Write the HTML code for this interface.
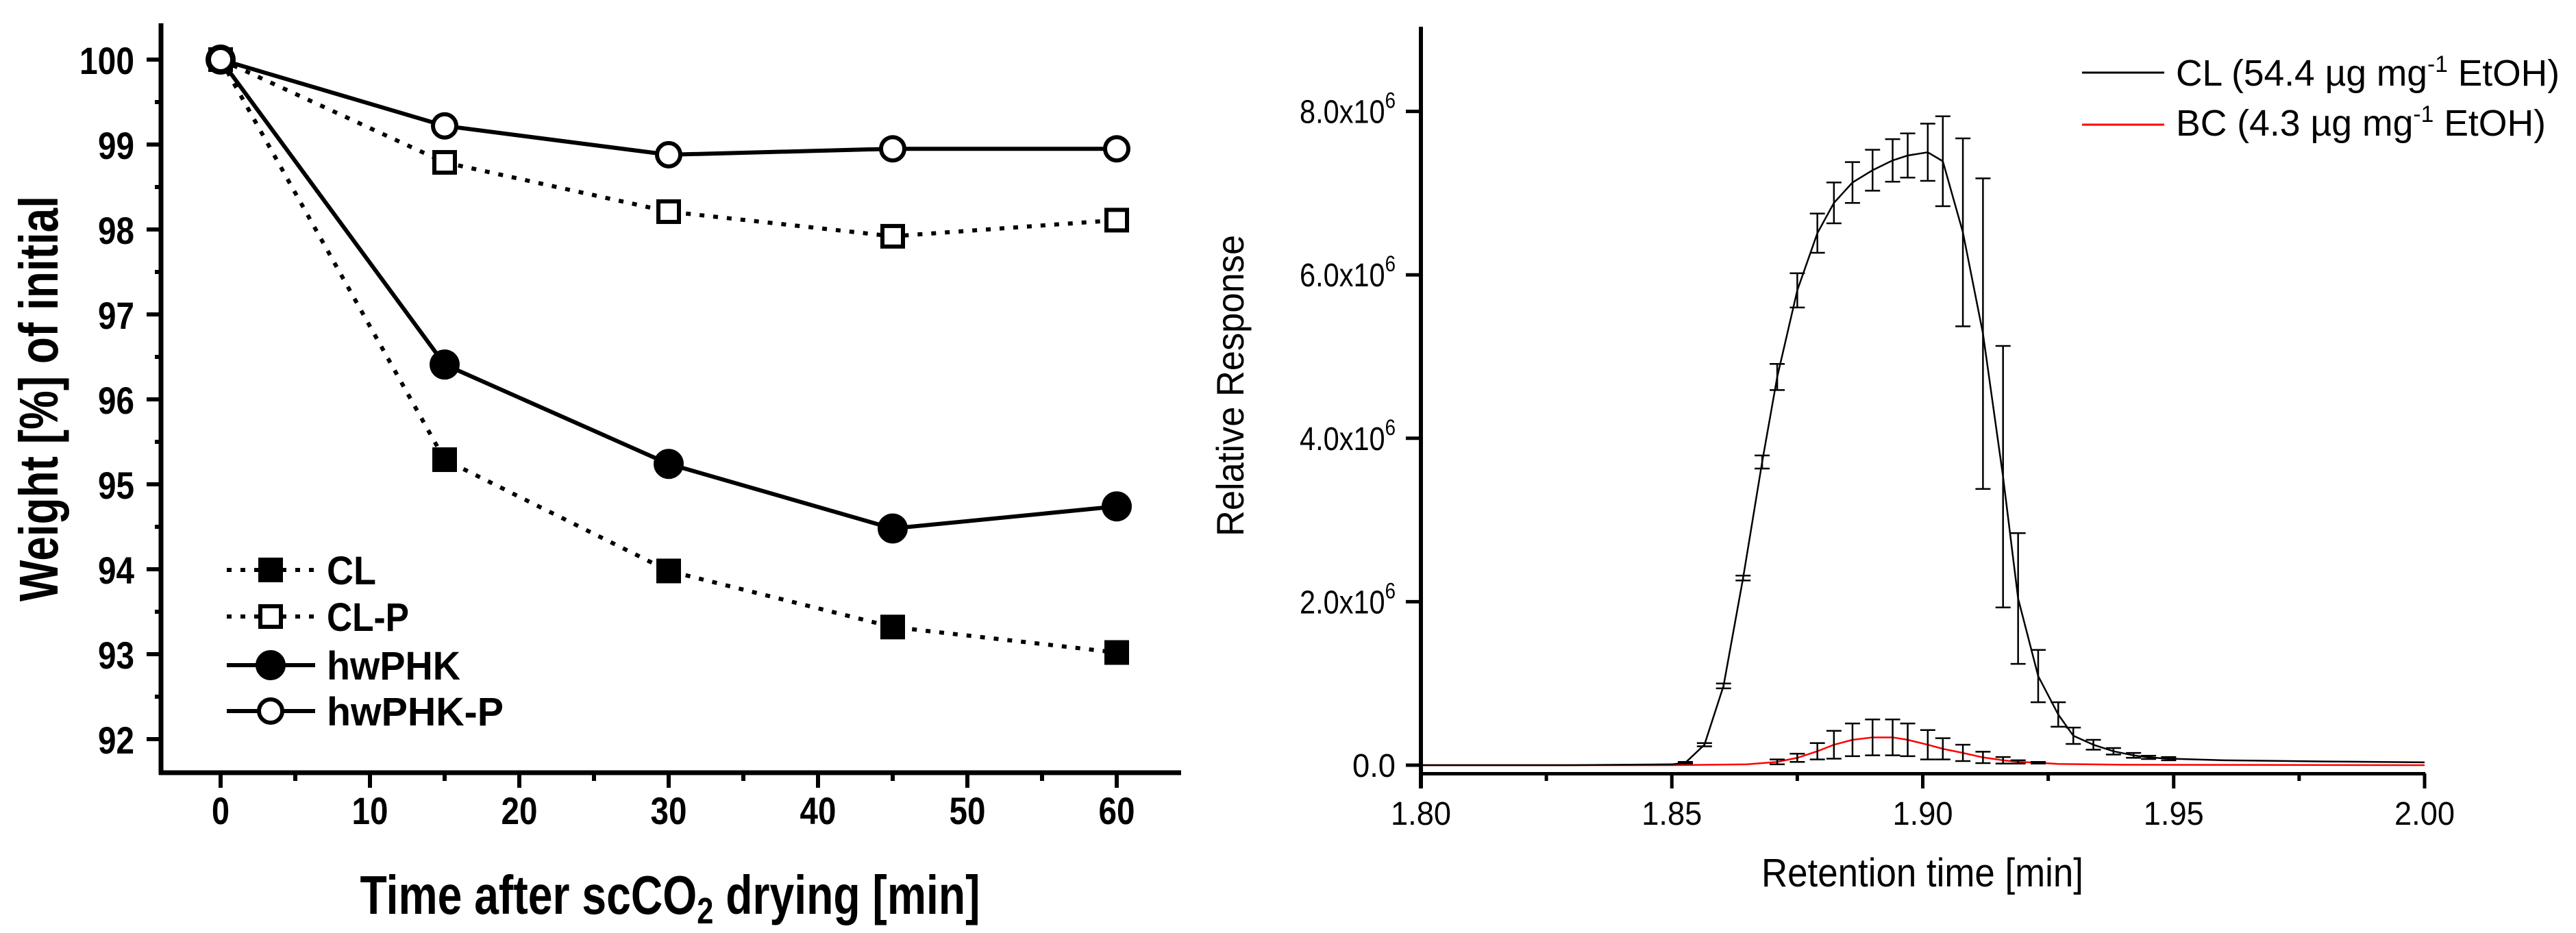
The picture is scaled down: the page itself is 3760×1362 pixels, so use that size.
<!DOCTYPE html>
<html><head><meta charset="utf-8"><style>
html,body{margin:0;padding:0;background:#fff;}
svg{display:block;}
text{font-family:"Liberation Sans",Arial,sans-serif;fill:#000;}
.b{font-weight:bold;}
</style></head><body>
<svg id="chart" width="3760" height="1362" viewBox="0 0 3760 1362" xmlns="http://www.w3.org/2000/svg">
<rect width="3760" height="1362" fill="#fff"/>
<g id="left"></g>
<g id="right"></g>
</svg>
<script>
// ---- Left chart data ----
const times = [0, 15, 30, 45, 60];
const clVals = [100, 95.29, 93.98, 93.32, 93.02];
const clpVals = [100, 98.79, 98.21, 97.92, 98.11];
const hwVals = [100, 96.41, 95.24, 94.48, 94.74];
const hwpVals = [100, 99.22, 98.88, 98.95, 98.95];
const leftXTicks = [0, 10, 20, 30, 40, 50, 60];
const leftYTicks = [92, 93, 94, 95, 96, 97, 98, 99, 100];

// ---- Right chart data ----
const rtX = [1.80, 1.83, 1.85, 1.8527, 1.8565, 1.8603, 1.8642, 1.868, 1.871, 1.875, 1.879, 1.8823, 1.886, 1.890, 1.894, 1.897, 1.901, 1.904, 1.908, 1.912, 1.916, 1.919, 1.923, 1.927, 1.930, 1.934, 1.938, 1.942, 1.945, 1.949, 1.96, 1.98, 2.00];
const clResp = [0, 0, 0.01, 0.03, 0.25, 0.97, 2.29, 3.71, 4.75, 5.81, 6.51, 6.88, 7.13, 7.28, 7.40, 7.46, 7.50, 7.39, 6.52, 5.28, 3.53, 2.04, 1.09, 0.62, 0.36, 0.25, 0.17, 0.12, 0.095, 0.08, 0.06, 0.045, 0.035];
const clErr = [0, 0, 0, 0.01, 0.02, 0.03, 0.03, 0.08, 0.16, 0.21, 0.24, 0.25, 0.25, 0.25, 0.26, 0.27, 0.35, 0.55, 1.15, 1.9, 1.6, 0.8, 0.32, 0.15, 0.1, 0.06, 0.04, 0.03, 0.02, 0.02, 0, 0, 0];
const bcX = [1.80, 1.85, 1.865, 1.871, 1.875, 1.879, 1.8823, 1.886, 1.890, 1.894, 1.897, 1.901, 1.904, 1.908, 1.912, 1.916, 1.919, 1.923, 1.927, 1.94, 2.00];
const bcResp = [0, 0, 0.01, 0.04, 0.09, 0.17, 0.25, 0.31, 0.34, 0.34, 0.31, 0.25, 0.20, 0.15, 0.095, 0.06, 0.04, 0.03, 0.015, 0.005, 0];
const bcErr = [0, 0, 0, 0.03, 0.05, 0.1, 0.17, 0.2, 0.22, 0.22, 0.2, 0.18, 0.13, 0.1, 0.07, 0.04, 0.02, 0.01, 0, 0, 0];
const rightXTicks = [1.80, 1.85, 1.90, 1.95, 2.00];
const rightYTicks = [0, 2, 4, 6, 8];

const NS = "http://www.w3.org/2000/svg";
function mk(parent, tag, attrs, txt) {
  const e = document.createElementNS(NS, tag);
  for (const k in attrs) e.setAttribute(k, attrs[k]);
  if (txt !== undefined) e.textContent = txt;
  parent.appendChild(e);
  return e;
}

// ================= LEFT =================
const L = document.getElementById('left');
const xL = t => 322 + t * 21.8;
const yL = w => 87 + (100 - w) * 124;
let e;
e = mk(L, 'line', {x1: 235, y1: 34, x2: 235, y2: 1131, stroke: '#000', 'stroke-width': 7});


e = mk(L, 'line', {x1: 232, y1: 1128, x2: 1724, y2: 1128, stroke: '#000', 'stroke-width': 7});


leftYTicks.forEach(v => {
  e = mk(L, 'line', {x1: 214, y1: yL(v), x2: 235, y2: yL(v), stroke: '#000', 'stroke-width': 6});
  
  
  if (v < 100) {
    e = mk(L, 'line', {x1: 226, y1: yL(v + 0.5), x2: 235, y2: yL(v + 0.5), stroke: '#000', 'stroke-width': 6});
    
    
  }
  e = mk(L, 'text', {x: 196, y: yL(v) + 21, 'text-anchor': 'end', 'font-size': 56, class: 'b', textLength: v === 100 ? 80 : 53, lengthAdjust: 'spacingAndGlyphs'}, String(v));
  
  
});
leftXTicks.forEach(v => {
  e = mk(L, 'line', {x1: xL(v), y1: 1128, x2: xL(v), y2: 1150, stroke: '#000', 'stroke-width': 6});
  
  
  if (v < 60) {
    e = mk(L, 'line', {x1: xL(v + 5), y1: 1128, x2: xL(v + 5), y2: 1140, stroke: '#000', 'stroke-width': 6});
    
    
  }
  e = mk(L, 'text', {x: xL(v), y: 1203, 'text-anchor': 'middle', 'font-size': 56, class: 'b', textLength: v === 0 ? 26 : 53, lengthAdjust: 'spacingAndGlyphs'}, String(v));
  
  
});
e = mk(L, 'text', {x: 978, y: 1334, 'text-anchor': 'middle', 'font-size': 80, class: 'b', textLength: 905, lengthAdjust: 'spacingAndGlyphs'});
e.innerHTML = 'Time after scCO<tspan font-size="54" dy="14">2</tspan><tspan dy="-14"> drying [min]</tspan>';


e = mk(L, 'text', {x: 0, y: 0, 'text-anchor': 'middle', 'font-size': 80, class: 'b', transform: 'translate(84,582) rotate(-90)', textLength: 592, lengthAdjust: 'spacingAndGlyphs'}, 'Weight [%] of initial');



const series = [
  {vals: clVals, dash: '7 13', marker: 'sq', fill: '#000', name: 'CL', w: 72},
  {vals: clpVals, dash: '7 13', marker: 'sq', fill: '#fff', name: 'CL-P', w: 120},
  {vals: hwVals, dash: null, marker: 'ci', fill: '#000', name: 'hwPHK', w: 195},
  {vals: hwpVals, dash: null, marker: 'ci', fill: '#fff', name: 'hwPHK-P', w: 258}
];
function marker(g, type, fill, x, y) {
  if (type === 'sq') return mk(g, 'rect', {x: x - 15, y: y - 15, width: 30, height: 30, fill: fill, stroke: '#000', 'stroke-width': 6});
  return mk(g, 'circle', {cx: x, cy: y, r: fill === '#000' ? 19 : 17, fill: fill, stroke: '#000', 'stroke-width': 6});
}
series.forEach((s, si) => {
  const g = mk(L, 'g', {});
  
  
  const pts = times.map((t, i) => xL(t) + ',' + yL(s.vals[i])).join(' ');
  const a = {points: pts, fill: 'none', stroke: '#000', 'stroke-width': 6};
  if (s.dash) a['stroke-dasharray'] = s.dash;
  e = mk(g, 'polyline', a);
  
  
  times.forEach((t, i) => {
    e = marker(g, s.marker, s.fill, xL(t), yL(s.vals[i]));
    
    
  });
  const ly = [832, 900, 971, 1038][si];
  const lg = mk(L, 'g', {});
  
  
  const la = {x1: 331, y1: ly, x2: 460, y2: ly, stroke: '#000', 'stroke-width': 6};
  if (s.dash) la['stroke-dasharray'] = s.dash;
  mk(lg, 'line', la);
  marker(lg, s.marker, s.fill, 395, ly);
  mk(lg, 'text', {x: 477, y: ly + 21, 'font-size': 58, class: 'b', textLength: s.w, lengthAdjust: 'spacingAndGlyphs'}, s.name);
});

// ================= RIGHT =================
const R = document.getElementById('right');
const xR = v => 2074 + (v - 1.8) / 0.2 * 1465;
const yR = v => 1117 - v * 119.3;
e = mk(R, 'line', {x1: 2074, y1: 39, x2: 2074, y2: 1151, stroke: '#000', 'stroke-width': 6});


e = mk(R, 'line', {x1: 2071, y1: 1129.5, x2: 3540, y2: 1129.5, stroke: '#000', 'stroke-width': 5});


rightYTicks.forEach(v => {
  e = mk(R, 'line', {x1: 2052, y1: yR(v), x2: 2074, y2: yR(v), stroke: '#000', 'stroke-width': 5});
  
  
  const t = mk(R, 'text', {x: 2037, y: yR(v) + 17, 'text-anchor': 'end', 'font-size': 48, lengthAdjust: 'spacingAndGlyphs'});
  if (v === 0) { t.textContent = '0.0'; t.setAttribute('textLength', 63); }
  else { t.innerHTML = v.toFixed(1) + 'x10<tspan font-size="32" dy="-22">6</tspan>'; t.setAttribute('textLength', 140); }
  
  
});
rightXTicks.forEach((v, i) => {
  e = mk(R, 'line', {x1: xR(v), y1: 1129, x2: xR(v), y2: 1151, stroke: '#000', 'stroke-width': 5});
  
  
  if (i < rightXTicks.length - 1) {
    e = mk(R, 'line', {x1: xR(v + 0.025), y1: 1129, x2: xR(v + 0.025), y2: 1140, stroke: '#000', 'stroke-width': 5});
    
    
  }
  e = mk(R, 'text', {x: xR(v), y: 1204, 'text-anchor': 'middle', 'font-size': 48, textLength: 88, lengthAdjust: 'spacingAndGlyphs'}, v.toFixed(2));
  
  
});
e = mk(R, 'text', {x: 2806, y: 1294, 'text-anchor': 'middle', 'font-size': 58, textLength: 470, lengthAdjust: 'spacingAndGlyphs'}, 'Retention time [min]');


e = mk(R, 'text', {x: 0, y: 0, 'text-anchor': 'middle', 'font-size': 56, transform: 'translate(1815,563) rotate(-90)', textLength: 440, lengthAdjust: 'spacingAndGlyphs'}, 'Relative Response');



function curve(xs, ys, errs, color, name) {
  const g = mk(R, 'g', {});
  
  
  e = mk(g, 'polyline', {points: xs.map((x, i) => xR(x) + ',' + yR(ys[i])).join(' '), fill: 'none', stroke: color, 'stroke-width': 2.5});
  
  
  xs.forEach((x, i) => {
    if (!errs[i]) return;
    const px = xR(x), y1 = yR(ys[i] + errs[i]), y2 = yR(ys[i] - errs[i]);
    e = mk(g, 'path', {d: `M${px},${y1}V${y2}M${px - 11},${y1}H${px + 11}M${px - 11},${y2}H${px + 11}`, stroke: '#000', 'stroke-width': 2.5, fill: 'none'});
    
    
  });
}
curve(bcX, bcResp, bcErr, '#ff0000', 'series-bc');
curve(rtX, clResp, clErr, '#000', 'series-cl');

const leg = [['#000', 'CL (54.4 µg mg', ' EtOH)', 106, 125, 560], ['#ff0000', 'BC (4.3 µg mg', ' EtOH)', 182, 198, 540]];
leg.forEach(l => {
  const g = mk(R, 'g', {});
  
  
  mk(g, 'line', {x1: 3039, y1: l[3], x2: 3159, y2: l[3], stroke: l[0], 'stroke-width': 3});
  const t = mk(g, 'text', {x: 3176, y: l[4], 'font-size': 54, textLength: l[5], lengthAdjust: 'spacingAndGlyphs'});
  t.innerHTML = l[1] + '<tspan font-size="34" dy="-20">-1</tspan><tspan dy="20">' + l[2] + '</tspan>';
});
</script>
</body></html>
